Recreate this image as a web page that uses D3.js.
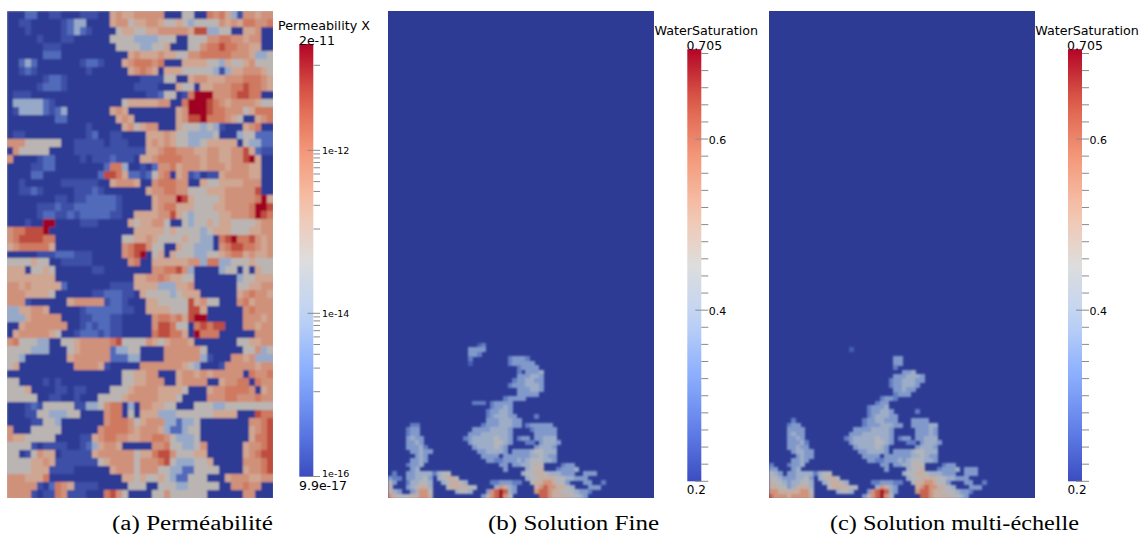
<!DOCTYPE html>
<html><head><meta charset="utf-8">
<style>html,body{margin:0;background:#fff}svg{display:block}text{font-family:"DejaVu Sans",sans-serif;fill:#000}
.cap{font-family:"Liberation Serif",serif;font-size:20px}</style>
<script src="https://cdnjs.cloudflare.com/ajax/libs/d3/7.8.5/d3.min.js"></script></head><body>
<svg id="c" width="1140" height="534"></svg>
<script>
// permeability classes (log-scale value per character)
const permClass = {"0":9.9e-17,"1":2.1e-16,"2":5.5e-16,"3":8e-15,"4":5.5e-14,"5":2e-13,"6":5e-13,"7":1.3e-12,"8":5e-12,"9":2e-11};
const satClass = {".":0.2,"1":0.25,"2":0.30,"3":0.35,"4":0.39,"5":0.44,"6":0.49,"7":0.55,"8":0.62,"9":0.70};
const permRows = [
"00022001100 01110056556 66660004400 76753166566",
"00110000012 33000056645 56654454344 44656577667",
"00010000012 32100004554 45566666588 33440055600",
"00000100011 00000044443 33344400444 66776656600",
"00000011100 00000004444 33445000446 77877665500",
"00000022200 00000000056 55565544667 77776665334",
"00232000000 01221000567 77670005555 44354456444",
"00121000000 00100000056 76505554444 43135566654",
"00000012210 00000000000 11114400566 55566677765",
"00000122210 00000000001 11100054405 56667787765",
"01110000000 00000000000 01124401799 96667887700",
"03333321000 00000000455 55566007999 87656666544",
"01333321230 00000056500 00000056999 87766645777",
"00000000220 00000005650 00000056889 77765400567",
"00000000000 00100000564 56600054443 43100056700",
"01100000000 00120011000 05556544333 34000344222",
"66644444400 11111011100 05656544334 55555043322",
"06444440000 11111111111 15567766655 66556685211",
"60000122000 01011121110 55677776665 66556689500",
"00001122000 00000277300 10266756665 66656665500",
"00002200000 00002887522 12467056120 11566665500",
"00100000011 11110056665 00677766005 44555566600",
"00112100000 11121000000 05667766444 55566666800",
"00000000110 11222221000 00566698544 44566666795",
"00000111211 22222221000 00567755544 45566667998",
"00000122112 12222211005 55566854344 44556667987",
"00010099000 01110000054 55664004344 54554444566",
"67788890000 00000000005 55554544443 45554445566",
"67888877000 00000000445 56544445443 30789778656",
"56777775000 00000000678 86440054433 30678877656",
"00000111222 11100000678 90450544433 44567756556",
"44445440011 11100000067 00555555663 77334445444",
"55504454000 00011000000 00667786300 00344040544",
"55555555000 00000000005 56676554400 00000344555",
"66565555520 00000011115 55533355600 00000445566",
"66655554000 00011222110 54444345550 00000567665",
"66610000005 66666122100 05544444856 44000675666",
"33556650000 01222222110 05555444885 00000067666",
"33356666600 01122211000 00677675899 00000066656",
"00566666660 01212211000 00688744078 78800066566",
"05666665400 12221211000 00788775097 77000000666",
"67444330044 56666678444 46545666500 00000445566",
"44443330004 56666623344 00006666664 00000044634",
"44300000005 66666622233 00006666663 10006656333",
"45000000000 66665100000 66666665430 00166666566",
"00000000000 00000000445 56600056656 56666607667",
"44000010100 00000000445 56660056666 00566770766",
"44450000110 11000044456 66655554000 56677776056",
"44444001100 10004444566 66655540000 66677666766",
"00012144444 11334677030 66554400044 43344444444",
"00011443334 40000677040 55533344444 45555000877",
"00001144300 00000677764 56663323340 00000006678",
"60004444400 00006777765 66653223440 00000005678",
"65544444000 01156776655 66776433340 00000005778",
"44441011110 01235665000 00667443346 00000056678",
"44014655011 11156666664 55788644455 00000056788",
"44445565111 11114566664 66678433344 50000066678",
"44445551111 00000056664 66644332244 44000056678",
"66655570000 00000000554 54454322444 00056665566",
"66666102765 11110000044 40044433444 44006676600",
"66661011761 11000786400 00446444444 00000066000"
];
const fineRows = [
".......... .......... .......... .......... .......... ..........",
".......... .......... 12........ .......... .......... ..........",
".......... ........33 33........ .......... .......... ..........",
".......... ........33 2......... .......... .......... ..........",
".......... ........2. .......233 32........ .......... ..........",
".......... ........1. .......233 333....... .......... ..........",
".......... .......... .........2 3333...... .......... ..........",
".......... .......... .........2 .3334..... .......... ..........",
".......... .......... .........3 33443..... .......... ..........",
".......... .......... ........23 34433..... .......... ..........",
".......... .......... .......233 34443..... .......... ..........",
".......... .......... .........3 33443..... .......... ..........",
".......... .......... .........3 3333...... .......... ..........",
".......... .......... ......2333 3......... .......... ..........",
".......... .........2 22.23333.. .......... .......... ..........",
".......... .......... ...23343.. .......... .......... ..........",
".......... .......... ..233443.. .......... .......... ..........",
".......... .......... ..2344433. ...2...... .......... ..........",
".......... .......... ..33344433 .......... .......... ..........",
".....22... .......... .233344433 .233333... .......... ..........",
"....233... .........3 33344443.. ..233333.. .......... ..........",
"....233... ........33 34444443.. ...33333.. .......... ..........",
"....3433.. .......234 44445443.2 33.33444.. .......... ..........",
"....3343.. ........34 44445543.. .22.34443. .......... ..........",
"....33342. .........3 4444543... ...34443.. .......... ..........",
".....33433 .......... 3344443.33 33455444.. .......... ..........",
"......343. .......... .3333.3333 33445433.. .......... ..........",
".....3343. .......... ..33223334 34555443.. .......... ..........",
"....2334.. .......... .....33.33 44565....2 33........ ..........",
".....34... .......... ......3... .4556...23 334....... ..........",
".2..334444 2455...... .......... 4556654443 33..333... ..........",
"322.334453 .45665.... .......... .455666655 44333..... ..........",
"53..244554 ..456654.. ...2233322 ..56677655 3...33..2. ..........",
"6...346664 ...5666655 ....47643. ...6787766 54...333.. ..........",
"643..34775 .....4554. ..3789843. ...7887665 554332.... ..........",
"7655566776 .......... .3678975.. ....887666 65543..... .........."
];
const multiRows = [
".......... .......... .......... .......... .......... ..........",
".......... .......... .......... .......... .......... ..........",
".......... ........1. .......... .......... .......... ..........",
".......... .......... .......... .......... .......... ..........",
".......... .......... ........33 .......... .......... ..........",
".......... .......... ........33 .......... .......... ..........",
".......... .......... ........2. .......... .......... ..........",
".......... .......... .......... 334....... .......... ..........",
".......... .......... ........33 34443..... .......... ..........",
".......... .......... .......233 44433..... .......... ..........",
".......... .......... .......233 4443...... .......... ..........",
".......... .......... ........33 433....... .......... ..........",
".......... .......... ........23 33........ .......... ..........",
".......... .......... .....2332. .......... .......... ..........",
".......... .......... ....233... .......... .......... ..........",
".......... .......... ..23334... .......... .......... ..........",
".......... .......... ..233443.. ...2...... .......... ..........",
".......... .......... ..2344433. .......... .......... ..........",
".....2.... .......... .23344333. ..3333.... .......... ..........",
"....233... .......... .233344433 ..333344.. .......... ..........",
"....3333.. .........3 33344443.. ...33343.. .......... ..........",
"....3433.. ........33 34444443.. ...33343.. .......... ..........",
"....3343.. .......234 44445443.2 33.33444.. .......... ..........",
"....33342. ........34 44445543.. .22.34443. .......... ..........",
"....33433. .........3 4444543... ...34443.. .......... ..........",
".....34433 .......... 3344443.33 33455444.. .......... ..........",
"......3433 .......... .3333.3333 33445433.. .......... ..........",
".....3343. .......... ..33223334 34555443.. .......... ..........",
"2...2334.. .......... .....33.33 44565....2 33........ ..........",
"33...34... .......... ......3... .4556...23 334.333... ..........",
"543.334444 2455...... .......... 4556654443 33..333... ..........",
"5543334453 .45665.... .......... .455666655 44333..... ..........",
"6554344554 ..456654.. ...2233322 ..56677655 3...33..2. ..........",
"6655346664 ...5666655 ....47643. ...6787766 54...333.. ..........",
"7766666775 .....4554. ..3789843. ...7887665 554332.... ..........",
"8777677776 .......... .3678975.. ....887666 65543..... .........."
];
const captions = ["(a)  Perméabilité","(b)  Solution Fine","(c)  Solution multi-échelle"];
const satTickValues = d3.range(0.2,0.7001,0.02);
const satLabels = [0.4,0.6];
const permDecades = [1e-16,1e-15,1e-14,1e-13,1e-12,1e-11,2e-11];
const permMinorDecades = [1e-15,1e-13];
const permLabels = [1e-16,1e-14,1e-12];
const coolwarm = ["#3b4cc0","#6282ea","#8db0fe","#c0d4f5","#dddddd","#f5c4ac","#f4987a","#dd604c","#b40426"];

const svg = d3.select("#c");
const defs = svg.append("defs");
defs.append("filter").attr("id","soft").attr("x","-2%").attr("y","-2%").attr("width","104%").attr("height","104%")
  .append("feGaussianBlur").attr("stdDeviation","1.1");
defs.append("clipPath").attr("id","clipA").append("rect").attr("x",7).attr("y",11).attr("width",266).attr("height",487);
defs.append("clipPath").attr("id","clipB").append("rect").attr("x",388).attr("y",11).attr("width",266).attr("height",487);
defs.append("clipPath").attr("id","clipC").append("rect").attr("x",769).attr("y",11).attr("width",266).attr("height",487);

const ramp = d3.scaleLinear().domain(d3.range(9).map(i=>i/8)).range(coolwarm).interpolate(d3.interpolateRgb);
const shade = f => { const c=d3.rgb(ramp(f)), k=0.77+0.12*f; return d3.rgb(c.r*k,c.g*k,c.b*k).formatHex(); };
const fracPerm = d3.scaleLog().domain([9.9e-17,2e-11]).range([0,1]);
const fracSat = d3.scaleLinear().domain([0.2,0.705]).range([0,1]);
const clean = s => s.replace(/ /g,"");

// (a) permeability
{
  const rows = permRows.map(clean);
  const x = d3.scaleBand().domain(d3.range(rows[0].length)).range([7,273]);
  const y = d3.scaleBand().domain(d3.range(rows.length)).range([11,498]);
  svg.append("rect").attr("x",7).attr("y",11).attr("width",266).attr("height",487).attr("fill",shade(0.5));
  const cells = rows.flatMap((r,j)=>Array.from(r,(ch,i)=>({i,j,v:permClass[ch]})));
  svg.append("g").attr("clip-path","url(#clipA)").append("g").attr("filter","url(#soft)").attr("shape-rendering","crispEdges")
    .selectAll("rect").data(cells).join("rect")
    .attr("x",d=>x(d.i)).attr("y",d=>y(d.j)).attr("width",x.bandwidth()+0.5).attr("height",y.bandwidth()+0.5)
    .attr("fill",d=>shade(fracPerm(d.v)));
}
// (b),(c) saturation
function plume(rowsRaw,left,clip){
  const rows = rowsRaw.map(clean);
  svg.append("rect").attr("x",left).attr("y",11).attr("width",266).attr("height",487).attr("fill",shade(0));
  const x = d3.scaleBand().domain(d3.range(60)).range([left,left+266]);
  const y = d3.scaleBand().domain(d3.range(rows.length)).range([338.5,498]);
  const cells = rows.flatMap((r,j)=>Array.from(r,(ch,i)=>({i,j,v:satClass[ch]}))).filter(d=>d.v>0.2);
  svg.append("g").attr("clip-path",`url(#${clip})`).append("g").attr("filter","url(#soft)").attr("shape-rendering","crispEdges")
    .selectAll("rect").data(cells).join("rect")
    .attr("x",d=>x(d.i)).attr("y",d=>y(d.j)).attr("width",x.bandwidth()+0.5).attr("height",y.bandwidth()+0.5)
    .attr("fill",d=>shade(fracSat(d.v)));
}
plume(fineRows,388,"clipB");
plume(multiRows,769,"clipC");

// colour bars
const grad = defs.append("linearGradient").attr("id","bar").attr("x1",0).attr("x2",0).attr("y1",1).attr("y2",0);
d3.range(0,1.0001,0.05).forEach(f=>grad.append("stop").attr("offset",f).attr("stop-color",ramp(f)));

function drawBar(x0,y0,y1){
  svg.append("rect").attr("x",x0).attr("y",y0).attr("width",14).attr("height",y1-y0).attr("fill","url(#bar)");
}
const tickCol = "#8a8a8a";
// permeability bar
{
  const y = d3.scaleLog().domain(permDecades).range([476.5,391.7,313.3,229,150.3,65.3,44]);
  drawBar(299.3,44,476.7);
  const minor = [];
  permMinorDecades.forEach(d=>d3.range(2,10).forEach(k=>minor.push(k*d)));
  const all = minor.concat(permDecades.slice(0,6));
  svg.append("g").selectAll("line").data(all).join("line")
    .attr("x1",d=>permLabels.includes(d)?307.5:313.5).attr("x2",320)
    .attr("y1",d=>y(d)).attr("y2",d=>y(d)).attr("stroke",tickCol).attr("stroke-width",1);
  svg.append("g").selectAll("text").data(permLabels).join("text")
    .attr("x",322).attr("y",d=>y(d)+(d===1e-16?0:3.5)).attr("font-size",9.5).attr("fill","#222").text(d=>"1e-"+Math.round(-Math.log10(d)));
  svg.append("text").attr("x",324).attr("y",30).attr("text-anchor","middle").attr("font-size",12.7).text("Permeability X");
  svg.append("text").attr("x",317).attr("y",44.5).attr("text-anchor","middle").attr("font-size",12.5).text("2e-11");
  svg.append("text").attr("x",323).attr("y",490).attr("text-anchor","middle").attr("font-size",12.5).text("9.9e-17");
}
// saturation bars
function satBar(x0){
  const y = d3.scaleLinear().domain([0.2,0.705]).range([481.3,49.2]);
  drawBar(x0,49.2,481.3);
  const isLong = d=>Math.abs(d-0.2)<1e-6||satLabels.some(l=>Math.abs(l-d)<1e-6);
  svg.append("g").selectAll("line").data(satTickValues).join("line")
    .attr("x1",d=>isLong(d)?x0+8:x0+14).attr("x2",x0+21)
    .attr("y1",d=>y(d)).attr("y2",d=>y(d)).attr("stroke",tickCol).attr("stroke-width",1);
  svg.append("g").selectAll("text").data(satLabels).join("text")
    .attr("x",x0+21.5).attr("y",d=>y(d)+5).attr("font-size",11).text(d=>d.toFixed(1));
  svg.append("text").attr("x",x0+19).attr("y",35).attr("text-anchor","middle").attr("font-size",12.7).text("WaterSaturation");
  svg.append("text").attr("x",x0+17).attr("y",50).attr("text-anchor","middle").attr("font-size",12.5).text("0.705");
  svg.append("text").attr("x",x0+9).attr("y",494).attr("text-anchor","middle").attr("font-size",12).text("0.2");
}
satBar(687.3);
satBar(1068);

// captions
const capX=[112,488,830], capW=[161,171,249];
svg.append("g").selectAll("text").data(captions).join("text").attr("class","cap")
  .attr("x",(d,i)=>capX[i]).attr("y",530).attr("textLength",(d,i)=>capW[i]).attr("lengthAdjust","spacingAndGlyphs").text(d=>d);
</script></body></html>
